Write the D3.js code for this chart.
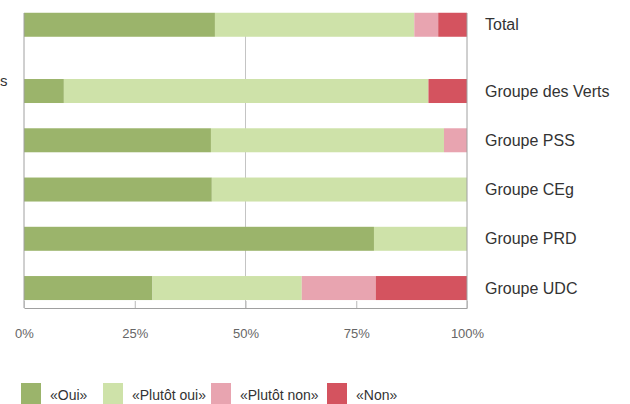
<!DOCTYPE html>
<html>
<head>
<meta charset="utf-8">
<script src="https://cdn.jsdelivr.net/npm/d3@7"></script>
<style>
  body { margin: 0; background: #fff; }
  svg { display: block; font-family: "Liberation Sans", Arial, sans-serif; }
</style>
</head>
<body>
<div id="chart"></div>
<script>
// Data
const groups = ["Total", "Groupe des Verts", "Groupe PSS", "Groupe CEg", "Groupe PRD", "Groupe UDC"];
const seriesNames = ["«Oui»", "«Plutôt oui»", "«Plutôt non»", "«Non»"];
const oui = [43.1, 9.0, 42.2, 42.4, 79.0, 29.0];
const plutotOui = [45.0, 82.3, 52.6, 57.6, 21.0, 33.7];
const plutotNon = [5.4, 0, 5.2, 0, 0, 16.7];
const non = [6.5, 8.7, 0, 0, 0, 20.6];
const tickValues = [0, 25, 50, 75, 100];
const colors = ["#9bb46b", "#cee2a9", "#e8a4b0", "#d4535f"];

const width = 630, height = 404;
const svg = d3.select("#chart").append("svg")
  .attr("width", width)
  .attr("height", height);

// Scales
const x = d3.scaleLinear().domain([0, 100]).range([24, 467]);
const plotTop = 13, plotBottom = 308;

// groups after "Total" sit on a regular band; Total gets an extra gap above
const yBand = d3.scaleBand()
  .domain(groups.slice(1))
  .range([66.7, 312.5])
  .paddingInner(0.51)
  .paddingOuter(0.25);
const totalGap = 17;
const y = name => name === "Total"
  ? yBand(groups[1]) - yBand.step() - totalGap
  : yBand(name);
const barH = 24;

// stack
const rows = groups.map((g, i) => ({ group: g, s0: oui[i], s1: plutotOui[i], s2: plutotNon[i], s3: non[i] }));
const stack = d3.stack().keys(["s0", "s1", "s2", "s3"]);
const layers = stack(rows);

// 50% gridline
svg.append("line")
  .attr("x1", x(50)).attr("x2", x(50))
  .attr("y1", plotTop).attr("y2", plotBottom)
  .attr("stroke", "#c4c4c4").attr("stroke-width", 1);

// bars
svg.selectAll("g.layer")
  .data(layers)
  .enter().append("g")
  .attr("class", "layer")
  .attr("fill", (d, i) => colors[i])
  .selectAll("rect")
  .data(d => d)
  .enter().append("rect")
  .attr("x", d => x(d[0]))
  .attr("width", d => Math.max(0, x(d[1]) - x(d[0])))
  .attr("y", d => y(d.data.group))
  .attr("height", barH);

// frame (left, right)
const frame = svg.append("g").attr("stroke", "#a0a0a0").attr("stroke-width", 1).attr("fill", "none");
frame.append("line").attr("x1", x(0)).attr("x2", x(0)).attr("y1", plotTop).attr("y2", plotBottom);
frame.append("line").attr("x1", x(100)).attr("x2", x(100)).attr("y1", plotTop).attr("y2", plotBottom);

// x axis
const xAxis = d3.axisBottom(x)
  .tickValues(tickValues)
  .tickFormat(d => d + "%")
  .tickSizeInner(-7)
  .tickSizeOuter(0)
  .tickPadding(21);
const gx = svg.append("g")
  .attr("transform", `translate(0,${plotBottom})`)
  .call(xAxis);
gx.select(".domain").attr("stroke", "#a0a0a0");
gx.selectAll(".tick line").attr("stroke", "#b8b8b8");
gx.selectAll(".tick text")
  .attr("fill", "#666")
  .style("font-size", "13px")
  .style("font-family", "'Liberation Sans', Arial, sans-serif");

// group labels
svg.selectAll("text.group")
  .data(groups)
  .enter().append("text")
  .attr("class", "group")
  .attr("x", 485)
  .attr("y", d => y(d) + barH / 2)
  .attr("dy", "0.35em")
  .attr("fill", "#333")
  .style("font-size", "16px")
  .text(d => d);

// cut-off label remnant at left edge
svg.append("text")
  .attr("x", 0)
  .attr("y", y(groups[1]) + 7)
  .attr("fill", "#333")
  .style("font-size", "15px")
  .text("s");

// legend
const legendX = [21, 103, 211, 327];
const legend = svg.selectAll("g.legend")
  .data(seriesNames)
  .enter().append("g")
  .attr("class", "legend")
  .attr("transform", (d, i) => `translate(${legendX[i]},383)`);
legend.append("rect")
  .attr("width", 20).attr("height", 22)
  .attr("fill", (d, i) => colors[i]);
legend.append("text")
  .attr("x", 29)
  .attr("y", 12)
  .attr("dy", "0.35em")
  .attr("fill", "#333")
  .style("font-size", "14px")
  .text(d => d);
</script>
</body>
</html>
